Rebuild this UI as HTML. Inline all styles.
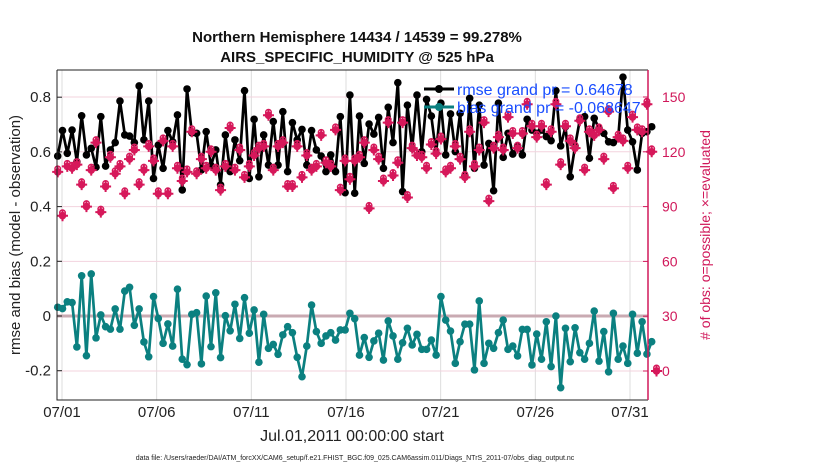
<!DOCTYPE html>
<html><head><meta charset="utf-8"><style>
body{margin:0;background:#fff;width:830px;height:470px;overflow:hidden;font-family:"Liberation Sans",sans-serif}
svg text{font-family:"Liberation Sans",sans-serif}
</style></head><body>
<svg id="chart" width="830" height="470" xmlns="http://www.w3.org/2000/svg">
<g id="grid"></g><g id="marks"></g><g id="pink"></g><g id="axes"></g>
</svg>
<script>
const tickDays=[0,5,10,15,20,25,30];
const tickLabels=["07/01","07/06","07/11","07/16","07/21","07/26","07/31"];
const leftTicks=[0.8,0.6,0.4,0.2,0,-0.2];
const leftTickLabels=["0.8","0.6","0.4","0.2","0","-0.2"];
const rightTicks=[150,120,90,60,30,0];
const rmse=[0.585,0.678,0.595,0.680,0.564,0.732,0.589,0.613,0.544,0.729,0.548,0.607,0.634,0.786,0.662,0.658,0.634,0.841,0.644,0.786,0.503,0.625,0.540,0.678,0.637,0.735,0.461,0.830,0.670,0.668,0.534,0.674,0.550,
0.607,0.479,0.662,0.528,0.644,0.568,0.824,0.503,0.719,0.509,0.662,0.552,0.711,0.552,0.747,0.528,0.707,0.644,0.682,0.552,0.678,0.607,0.585,0.528,0.589,0.528,0.729,0.451,0.808,0.449,0.731,
0.558,0.702,0.665,0.726,0.540,0.763,0.634,0.853,0.455,0.771,0.613,0.808,0.601,0.792,0.731,0.595,0.778,0.589,0.739,0.601,0.741,0.512,0.796,0.540,0.771,0.552,0.631,0.458,0.778,0.580,0.668,0.592,
0.622,0.589,0.719,0.680,0.668,0.680,0.656,0.641,0.824,0.622,0.692,0.509,0.622,0.717,0.729,0.577,0.723,0.686,0.668,0.637,0.634,0.650,0.873,0.680,0.637,0.534,0.668,0.674,0.692];
const bias=[0.032,0.027,0.052,0.049,-0.113,0.147,-0.145,0.154,-0.080,0.004,-0.039,-0.048,0.026,-0.048,0.091,0.105,-0.034,0.026,-0.095,-0.149,0.071,-0.009,-0.100,-0.029,-0.110,0.098,-0.158,-0.178,0.006,0.012,-0.175,0.073,-0.112,0.085,-0.152,0.001,-0.054,0.043,-0.082,0.067,-0.063,0.022,-0.169,0.006,-0.118,-0.104,-0.140,-0.069,-0.039,-0.061,-0.151,-0.222,-0.110,0.040,-0.057,-0.100,-0.073,-0.061,-0.088,-0.051,-0.051,0.010,-0.010,
-0.143,-0.079,-0.151,-0.091,-0.063,-0.161,-0.018,-0.073,-0.158,-0.098,-0.045,-0.106,-0.067,-0.122,-0.122,-0.088,-0.143,0.071,-0.015,-0.055,-0.173,-0.094,-0.030,-0.030,-0.197,0.055,-0.173,-0.100,-0.118,-0.061,-0.015,-0.122,-0.110,-0.146,-0.049,-0.049,-0.179,-0.066,-0.158,-0.021,-0.185,0.000,-0.262,-0.045,-0.167,-0.043,-0.134,-0.158,-0.100,0.018,-0.165,-0.057,-0.204,0.010,-0.158,-0.110,-0.173,0.006,-0.136,-0.021,-0.139,-0.094];
const evaluated=[109,85,112,111,113,102,90,110,125,87,101,117,108,112,97,116,121,102,110,123,115,97,126,97,123,111,104,109,131,108,116,111,120,
110,99,112,133,110,121,106,112,118,122,123,140,110,123,125,101,101,123,106,118,110,112,129,114,112,132,99,115,105,115,117,
125,89,121,116,104,136,107,114,136,95,122,118,117,111,124,119,127,109,111,123,116,106,131,112,121,136,93,122,128,121,139,
130,122,130,146,134,128,134,102,131,146,113,134,126,122,137,110,131,129,132,116,142,100,128,126,111,139,132,131,146,120,0];
const possible=evaluated.slice();

const NS="http://www.w3.org/2000/svg";
const X0=57,X1=648,Y0=70,Y1=400;
const xIdx=i=>57.7+i*(594/124);
const xDay=d=>62+d*18.933;
const yL=v=>316-v*273.5;
const yR=v=>371-v*1.8267;
function mk(tag,attrs,parent,txt){const e=document.createElementNS(NS,tag);for(const k in attrs)e.setAttribute(k,attrs[k]);if(txt!==undefined)e.textContent=txt;parent.appendChild(e);return e;}
const grid=document.getElementById('grid'),marks=document.getElementById('marks'),pink=document.getElementById('pink'),axes=document.getElementById('axes');

tickDays.forEach((d,i)=>{
  const l=mk('line',{x1:xDay(d),x2:xDay(d),y1:Y0,y2:Y1,stroke:'#dcdcdc','stroke-width':1},grid);
  
  
  const t=mk('text',{x:xDay(d),y:417,'text-anchor':'middle','font-size':15,fill:'#222'},axes,tickLabels[i]);
  
  
});
rightTicks.forEach(v=>{
  const l=mk('line',{x1:X0,x2:X1,y1:yR(v),y2:yR(v),stroke:'#f3d3de','stroke-width':1},grid);
  
  
  const t=mk('text',{x:662,y:yR(v)+5,'font-size':14,fill:'#d0185a'},axes,String(v));
  
  
  const tk=mk('line',{x1:X1-5,x2:X1,y1:yR(v),y2:yR(v),stroke:'#d0185a','stroke-width':1},axes);
  
  
});
leftTicks.forEach((v,i)=>{
  const t=mk('text',{x:51,y:yL(v)+5,'text-anchor':'end','font-size':15,fill:'#222'},axes,leftTickLabels[i]);
  
  
  const tk=mk('line',{x1:X0,x2:X0+5,y1:yL(v),y2:yL(v),stroke:'#222'},axes);
  
  
});
const z=mk('line',{x1:X0,x2:X1,y1:yL(0),y2:yL(0),stroke:'#c9aab2','stroke-width':3},grid);



function series(arr,color,name){
  const d=arr.map((v,i)=>(i?'L':'M')+xIdx(i).toFixed(1)+' '+yL(v).toFixed(1)).join('');
  const p=mk('path',{d:d,fill:'none',stroke:color,'stroke-width':2.7,'stroke-linejoin':'round'},marks);
  
  
  arr.forEach((v,i)=>{
    const c=mk('circle',{cx:xIdx(i),cy:yL(v),r:3.8,fill:color},marks);
    
    
  });
}
series(rmse,'#000','rmse');
series(bias,'#0b8080','bias');

const star=(cx,cy,p)=>{
  const g=mk('g',{},p);
  mk('circle',{cx:cx,cy:cy,r:3.8,fill:'#d6185a'},g);
  mk('path',{d:`M${cx-5.5} ${cy}H${cx+5.5}M${cx} ${cy-5.5}V${cy+5.5}`,stroke:'#d6185a','stroke-width':2},g);
  return g;
};
possible.forEach((v,i)=>{
  const c=mk('circle',{cx:xIdx(i),cy:yR(v)-3,r:2.8,fill:'none',stroke:'#d6185a','stroke-width':1.4},pink);
  
  
});
evaluated.forEach((v,i)=>{
  const g=star(xIdx(i),yR(v),pink);
  
  
});

const fr=mk('path',{d:`M${X0} ${Y0}V${Y1}H${X1}M${X0} ${Y0}H${X1}`,fill:'none',stroke:'#222','stroke-width':1},axes);


const ra=mk('line',{x1:X1,x2:X1,y1:Y0,y2:Y1,stroke:'#d0185a','stroke-width':1.5},axes);



const lg=mk('g',{},axes);


mk('line',{x1:424,x2:454,y1:89,y2:89,stroke:'#000','stroke-width':3},lg);
mk('circle',{cx:439,cy:89,r:4,fill:'#000'},lg);
const l1=mk('text',{x:457,y:95,'font-size':16,fill:'#1a4dff'},lg,'rmse grand pr = 0.64678');


mk('line',{x1:424,x2:454,y1:107,y2:107,stroke:'#0b8080','stroke-width':3},lg);
mk('circle',{cx:439,cy:107,r:4,fill:'#0b8080'},lg);
const l2=mk('text',{x:457,y:113,'font-size':16,fill:'#1a4dff'},lg,'bias grand pr = -0.068647');


</script>
<svg style="position:absolute;left:0;top:0" width="830" height="470" xmlns="http://www.w3.org/2000/svg">
<text x="357" y="42" text-anchor="middle" font-size="15" font-weight="bold" fill="#111">Northern Hemisphere 14434 / 14539 = 99.278%</text>
<text x="357" y="62" text-anchor="middle" font-size="15" font-weight="bold" fill="#111">AIRS_SPECIFIC_HUMIDITY @ 525 hPa</text>
<text x="352" y="441" text-anchor="middle" font-size="16" fill="#222">Jul.01,2011 00:00:00 start</text>
<text transform="translate(20,235) rotate(-90)" text-anchor="middle" font-size="15" fill="#222">rmse and bias (model - observation)</text>
<text transform="translate(710,235) rotate(-90)" text-anchor="middle" font-size="14" fill="#d0185a"># of obs: o=possible; ×=evaluated</text>
<text x="355" y="460" text-anchor="middle" font-size="7" fill="#222">data file: /Users/raeder/DAI/ATM_forcXX/CAM6_setup/f.e21.FHIST_BGC.f09_025.CAM6assim.011/Diags_NTrS_2011-07/obs_diag_output.nc</text>
</svg>
</body></html>
